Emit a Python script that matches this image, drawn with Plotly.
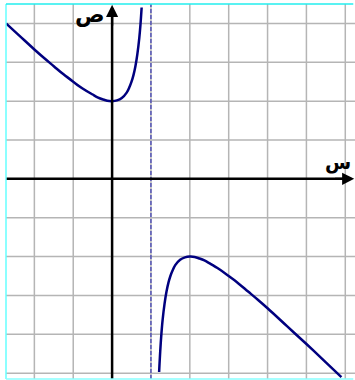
import plotly.graph_objects as go

# Points (left branch, right branch)
left_x = [-2.73, -2.5, -2.25, -2.0, -1.75, -1.5, -1.25, -1.0, -0.75, -0.5, -0.375, -0.25, -0.125, 0.0,
          0.125, 0.25, 0.375, 0.45, 0.5, 0.55, 0.6, 0.65, 0.7, 0.73, 0.76]
left_y = [4.0, 3.79, 3.56, 3.33, 3.11, 2.9, 2.69, 2.5, 2.32, 2.17, 2.10, 2.05, 2.01, 2.0,
          2.02, 2.08, 2.22, 2.37, 2.5, 2.67, 2.9, 3.21, 3.63, 3.97, 4.41]
right_x = [1.21, 1.24, 1.27, 1.3, 1.35, 1.4, 1.45, 1.5, 1.55, 1.625, 1.75, 1.875, 2.0, 2.125, 2.25,
           2.375, 2.5, 2.75, 3.0, 3.25, 3.5, 3.75, 4.0, 4.5, 5.0, 5.5, 5.9]
right_y = [-4.97, -4.41, -3.97, -3.63, -3.21, -2.9, -2.67, -2.5, -2.37, -2.22, -2.08, -2.02, -2.0, -2.01, -2.05,
           -2.10, -2.17, -2.32, -2.5, -2.69, -2.9, -3.11, -3.33, -3.79, -4.25, -4.72, -5.1]
asymptote_x = 1
grid_x = [-2, -1, 0, 1, 2, 3, 4, 5, 6]
grid_y = [-5, -4, -3, -2, -1, 0, 1, 2, 3, 4]
x_label = "س"
y_label = "ص"

X0, X1 = -2.73, 6.25
Y0, Y1 = -5.15, 4.5

fig = go.Figure()
curve_color = "#00007f"
fig.add_trace(go.Scatter(x=left_x, y=left_y, mode="lines", line=dict(color=curve_color, width=2.5, shape="spline"),
                         hoverinfo="skip", showlegend=False))
fig.add_trace(go.Scatter(x=right_x, y=right_y, mode="lines", line=dict(color=curve_color, width=2.5, shape="spline"),
                         hoverinfo="skip", showlegend=False))

shapes = []
for gx in grid_x:
    if gx == 0:
        continue
    shapes.append(dict(type="line", xref="x", yref="y", x0=gx, x1=gx, y0=Y0, y1=Y1,
                       line=dict(color="#b5b5b5", width=1.5), layer="below"))
for gy in grid_y:
    if gy == 0:
        continue
    shapes.append(dict(type="line", xref="x", yref="y", x0=X0, x1=X1, y0=gy, y1=gy,
                       line=dict(color="#b5b5b5", width=1.5), layer="below"))
# asymptote
shapes.append(dict(type="line", xref="x", yref="y", x0=asymptote_x, x1=asymptote_x, y0=Y0, y1=Y1,
                   line=dict(color="#1c1cb0", width=1, dash="4px,2px"), layer="below"))
# axes
shapes.append(dict(type="line", xref="x", yref="y", x0=X0, x1=6.15, y0=0, y1=0,
                   line=dict(color="black", width=2.5)))
shapes.append(dict(type="line", xref="x", yref="y", x0=0, x1=0, y0=Y0, y1=4.4,
                   line=dict(color="black", width=2.5)))
# cyan frame (left, top, bottom)
shapes.append(dict(type="line", xref="paper", yref="paper", x0=0, x1=0, y0=0, y1=1,
                   line=dict(color="#66ffff", width=1.5)))
shapes.append(dict(type="line", xref="paper", yref="paper", x0=0, x1=0.995, y0=1, y1=1,
                   line=dict(color="#22eeee", width=1.5)))
shapes.append(dict(type="line", xref="paper", yref="paper", x0=0, x1=0.995, y0=0, y1=0,
                   line=dict(color="#88ffff", width=1.5)))

annotations = [
    dict(x=0, y=4.48, ax=0, ay=3.9, xref="x", yref="y", axref="x", ayref="y", text="",
         showarrow=True, arrowhead=2, arrowsize=1.1, arrowwidth=2.2, arrowcolor="black"),
    dict(x=6.23, y=0, ax=5.7, ay=0, xref="x", yref="y", axref="x", ayref="y", text="",
         showarrow=True, arrowhead=2, arrowsize=1.1, arrowwidth=2.2, arrowcolor="black"),
    dict(x=-0.58, y=4.22, xref="x", yref="y", text="<b>" + y_label + "</b>", showarrow=False,
         font=dict(size=22, color="black", family="DejaVu Sans")),
    dict(x=5.8, y=0.43, xref="x", yref="y", text="<b>" + x_label + "</b>", showarrow=False,
         font=dict(size=19, color="black", family="DejaVu Sans")),
]

fig.update_layout(
    width=355, height=380,
    margin=dict(l=6, r=0, t=4, b=1),
    paper_bgcolor="white", plot_bgcolor="white",
    xaxis=dict(range=[X0, X1], showgrid=False, zeroline=False, showticklabels=False, ticks="", fixedrange=True),
    yaxis=dict(range=[Y0, Y1], showgrid=False, zeroline=False, showticklabels=False, ticks="", fixedrange=True),
    shapes=shapes, annotations=annotations, showlegend=False,
)
fig.write_html("out.html", config={"displayModeBar": False},
               post_script="document.body.style.margin='0';document.body.style.padding='0';"
                           "document.body.style.overflow='hidden';")
